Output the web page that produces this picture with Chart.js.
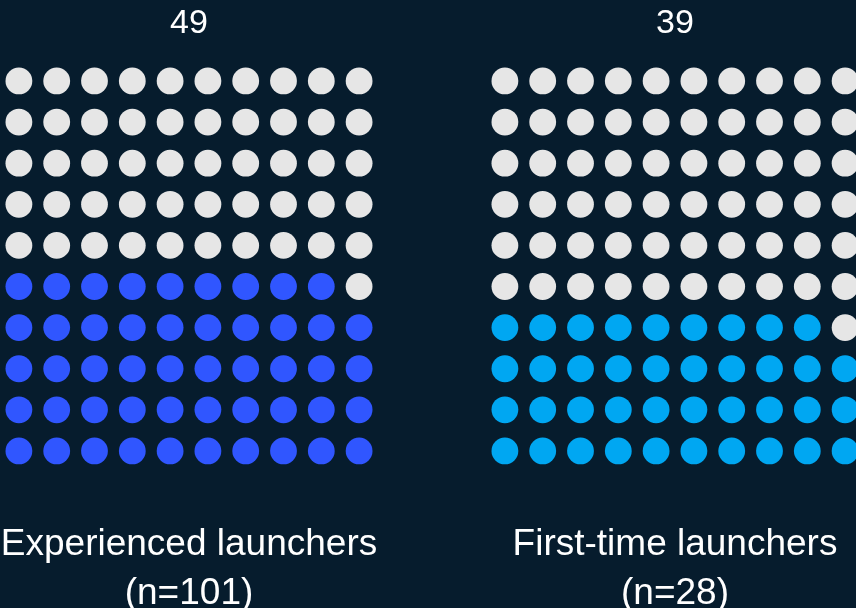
<!DOCTYPE html>
<html>
<head>
<meta charset="utf-8">
<script src="https://cdn.jsdelivr.net/npm/chart.js@4"></script>
<style>
  html, body { margin: 0; padding: 0; background: #061c2d; overflow: hidden; width: 856px; height: 608px; }
  canvas { position: absolute; top: 0; }
  #left { left: 0; }
  #right { left: 486px; }
</style>
</head>
<body>
<canvas id="left" width="378" height="608"></canvas>
<canvas id="right" width="378" height="608"></canvas>
<script>
const groups = ['Experienced launchers', 'First-time launchers'];
const sampleSizes = [101, 28];
const counts = [49, 39];
const fillColors = ['#3056ff', '#00a7f2'];
const emptyColor = '#e6e6e6';
const gridSize = 10;

const fontFamily = '"Liberation Sans", Arial, sans-serif';

// 10x10 waffle, filled from the bottom row, left to right
function waffle(count) {
    const filled = [];
    const empty = [];
    for (let i = 0; i < gridSize * gridSize; i++) {
        const pt = { x: i % gridSize, y: Math.floor(i / gridSize) };
        if (i < count) filled.push(pt); else empty.push(pt);
    }
    return { filled, empty };
}

const labelsPlugin = {
    id: 'waffleLabels',
    afterDraw(chart, args, opts) {
        const { ctx, chartArea } = chart;
        const cx = (chartArea.left + chartArea.right) / 2;
        ctx.save();
        ctx.fillStyle = '#ffffff';
        ctx.textAlign = 'center';
        ctx.textBaseline = 'alphabetic';
        ctx.font = '34px ' + fontFamily;
        ctx.fillText(String(opts.count), cx, 33);
        ctx.font = '37px ' + fontFamily;
        ctx.fillText(opts.name, cx, 555);
        ctx.fillText('(n=' + opts.n + ')', cx, 604);
        ctx.restore();
    }
};

function drawWaffle(canvasId, idx) {
    const cells = waffle(counts[idx]);
    new Chart(document.getElementById(canvasId), {
        type: 'scatter',
        data: {
            datasets: [
                { data: cells.filled, backgroundColor: fillColors[idx] },
                { data: cells.empty, backgroundColor: emptyColor }
            ]
        },
        options: {
            responsive: false,
            animation: false,
            events: [],
            elements: {
                point: { radius: 13.4, borderWidth: 0, hoverRadius: 13.4 }
            },
            layout: {
                autoPadding: false,
                padding: { top: 60.4, bottom: 136.5, left: 0, right: 0 }
            },
            plugins: {
                legend: { display: false },
                tooltip: { enabled: false },
                waffleLabels: { count: counts[idx], name: groups[idx], n: sampleSizes[idx] }
            },
            scales: {
                x: { type: 'linear', min: -0.5, max: gridSize - 0.5, display: false },
                y: { type: 'linear', min: -0.5, max: gridSize - 0.5, display: false }
            }
        },
        plugins: [labelsPlugin]
    });
}

drawWaffle('left', 0);
drawWaffle('right', 1);
</script>
</body>
</html>
